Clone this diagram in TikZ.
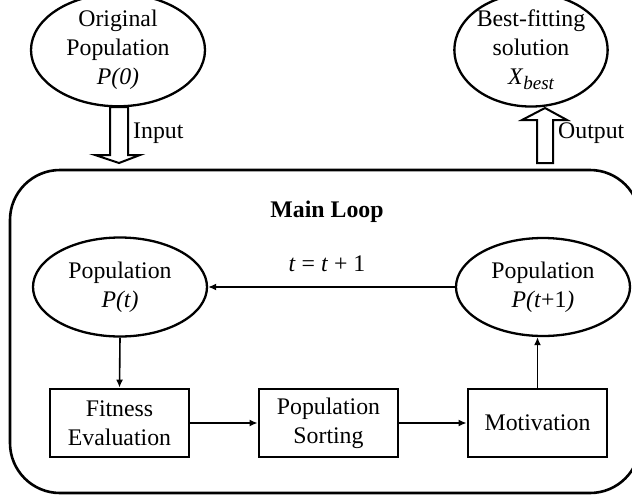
\documentclass[tikz,border=0pt]{standalone}
\usepackage{fontspec}
\setmainfont{Liberation Serif}
\usetikzlibrary{shapes.geometric,arrows.meta,calc}

\begin{document}
\begin{tikzpicture}[x=1pt,y=-1pt,
  every node/.style={font=\fontsize{23.8pt}{29pt}\selectfont, align=center, inner sep=0pt},
  popell/.style={ellipse, draw, line width=2.3pt, minimum width=174pt, minimum height=98pt},
  stepbox/.style={rectangle, draw, line width=2.8pt, minimum width=139pt, minimum height=68pt},
  conn/.style={line width=1.6pt, -{Latex[length=8pt,width=7pt]}},
  blockarrow/.style={draw, line width=2pt, fill=white, line join=miter},
]
\useasboundingbox (0,0) rectangle (632,496);

% outer container of the iteration
\node[draw, line width=2.6pt, rounded corners=50pt, minimum width=630pt, minimum height=323pt]
  (loop) at (325,331.5) {};
\node[font=\fontsize{23.8pt}{29pt}\selectfont\bfseries] (title) at (327,212) {Main Loop};

% input / output populations
\node[popell] (orig) at (118,50) {Original\\Population\\\textit{P(0)}};
\node[popell, minimum width=148pt, minimum height=96pt] (best) at (531,50)
  {Best-fitting\\solution\\\textit{X}\raisebox{-5pt}{\fontsize{19pt}{19pt}\selectfont\itshape best}};

% populations inside the loop
\node[popell, minimum height=99pt] (pt) at (120,287) {Population\\\textit{P(t)}};
\node[popell] (pt1) at (543,287) {Population\\\textit{P(t}+1\textit{)}};

% processing steps
\node[stepbox] (fit) at (119.5,423) {Fitness\\Evaluation};
\node[stepbox] (sort) at (328.5,423) {Population\\Sorting};
\node[stepbox] (mot) at (537.5,423) {Motivation};

% flow inside the loop
\draw[conn] (pt.south) -- (fit.north);
\draw[conn] (fit.east) -- (sort.west);
\draw[conn] (sort.east) -- (mot.west);
\draw[conn] (mot.north) -- (mot.north |- pt1.south);
\draw[conn] (pt1.west) -- (pt.east);
\node (inc) at (327,264) {\textit{t} = \textit{t} + 1};

% hollow block arrows into and out of the loop
\coordinate (inA) at (119,107);
\draw[blockarrow] ($(inA)+(-9,0)$) -- ($(inA)+(9,0)$) -- ($(inA)+(9,48)$) -- ($(inA)+(21,48)$)
  -- ($(inA)+(0,56)$) -- ($(inA)+(-24,48)$) -- ($(inA)+(-9,48)$) -- cycle;
\node[anchor=west] (inlbl) at (133,133) {Input};

\coordinate (outA) at (545,108);
\draw[blockarrow] ($(outA)+(-8,55)$) -- ($(outA)+(8,55)$) -- ($(outA)+(8,12)$) -- ($(outA)+(22,12)$)
  -- ($(outA)+(0,0)$) -- ($(outA)+(-23,12)$) -- ($(outA)+(-8,12)$) -- cycle;
\node[anchor=west] (outlbl) at (558,133) {Output};
\end{tikzpicture}
\end{document}
